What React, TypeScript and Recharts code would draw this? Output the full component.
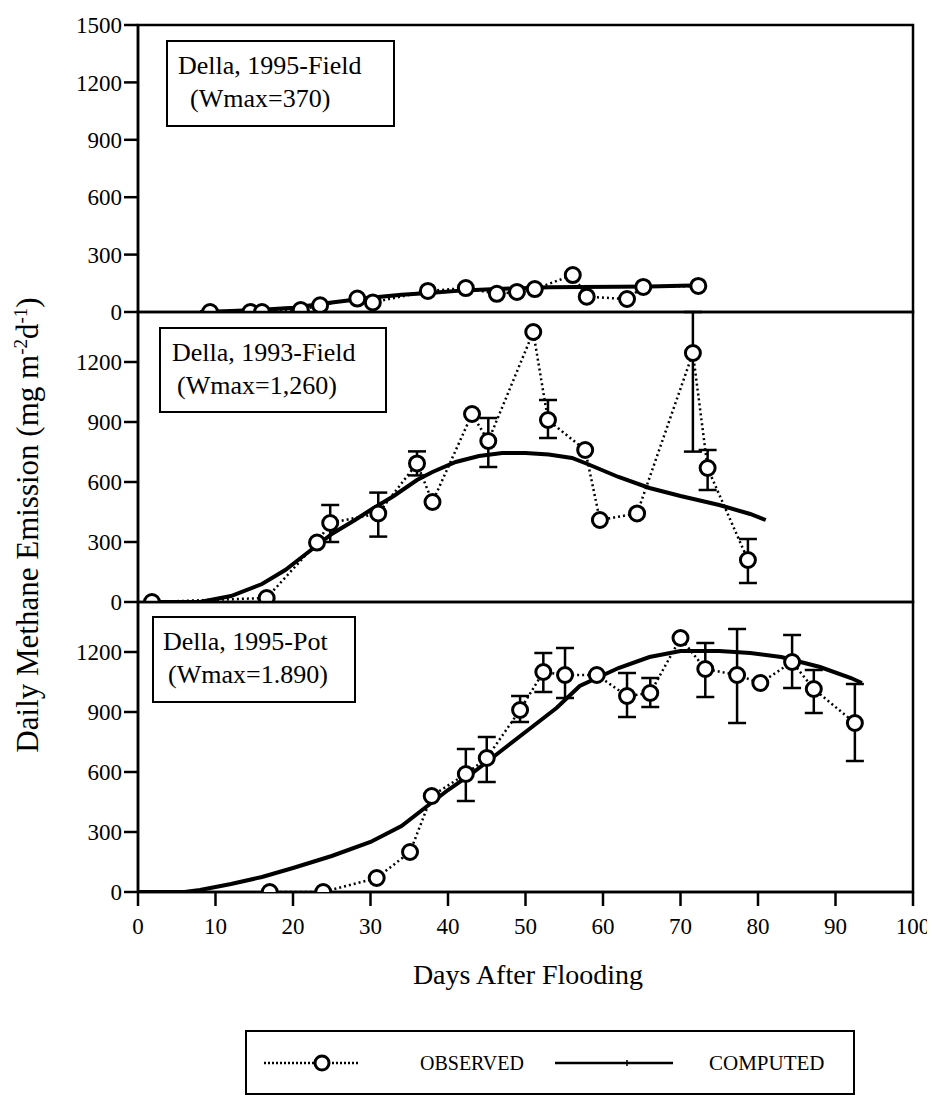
import React from 'react';
import { ComposedChart, Line, XAxis, YAxis, ErrorBar, ReferenceArea } from 'recharts';

const FONT = '"Liberation Serif", "Times New Roman", serif';

const xTicks = [0, 10, 20, 30, 40, 50, 60, 70, 80, 90, 100];
const yTicksTop = [0, 300, 600, 900, 1200, 1500];
const yTicksLow = [0, 300, 600, 900, 1200];

// Della, 1995-Field
const f95ObsDays = [9.3, 14.5, 16, 21, 23.5, 28.3, 30.3, 37.4, 42.3, 46.3, 48.9, 51.2, 56.1, 57.9, 63.1, 65.2, 72.3];
const f95ObsVals = [0, 0, 0, 10, 35, 70, 50, 110, 125, 95, 105, 120, 193, 80, 68, 131, 136];
const f95CompDays = [8, 12, 16, 20, 25, 30, 34, 38, 42, 47, 53, 57, 62, 66, 70, 73];
const f95CompVals = [0, 5, 12, 22, 50, 75, 90, 100, 113, 121, 130, 131, 132, 133, 137, 140];

// Della, 1993-Field
const f93ObsDays = [1.8, 16.6, 23.1, 24.8, 31, 36, 38, 43.1, 45.2, 51, 52.9, 57.7, 59.6, 64.4, 71.6, 73.5, 78.7];
const f93ObsVals = [0, 20, 297, 395, 443, 693, 500, 940, 805, 1350, 910, 760, 410, 443, 1245, 670, 210];
const f93ObsErr = [null, null, null, [95, 90], [116, 104], [60, 60], null, null, [130, 115], null, [90, 100], null, null, null, [493, 205], [110, 90], [115, 105]];
const f93CompDays = [2, 8, 12, 16, 19, 21, 23, 25, 28, 30, 33, 36, 38, 41, 44, 47, 50, 53, 56, 58, 62, 66, 70, 75, 79, 81];
const f93CompVals = [0, 0, 30, 90, 160, 220, 280, 340, 410, 460, 530, 610, 650, 700, 730, 745, 745, 738, 720, 690, 625, 570, 530, 485, 440, 410];

// Della, 1995-Pot
const p95ObsDays = [17, 23.9, 30.8, 35.1, 37.9, 42.3, 45, 49.3, 52.3, 55.1, 59.2, 63.1, 66.1, 70, 73.2, 77.3, 80.3, 84.4, 87.2, 92.5];
const p95ObsVals = [0, 0, 70, 200, 480, 590, 670, 910, 1100, 1085, 1085, 980, 995, 1270, 1115, 1085, 1045, 1150, 1015, 845];
const p95ObsErr = [null, null, null, null, null, [135, 125], [120, 105], [60, 70], [100, 95], [115, 135], null, [105, 115], [70, 75], null, [140, 130], [240, 230], null, [130, 135], [120, 95], [190, 195]];
const p95CompDays = [0, 6, 8, 12, 16, 20, 25, 30, 34, 38, 40, 43, 47, 51, 54, 57, 62, 66, 70, 75, 79, 83, 88, 92, 93.4];
const p95CompVals = [0, 0, 10, 40, 75, 120, 180, 250, 330, 450, 510, 590, 710, 830, 920, 1030, 1120, 1175, 1205, 1205, 1195, 1175, 1125, 1070, 1045];

type Row = { day: number; v: number; err?: number[] | null };

const rows = (days: number[], vals: number[], errs?: (number[] | null)[]): Row[] =>
  days.map((d, i) => ({ day: d, v: vals[i], err: errs ? errs[i] : null }));

const axisStroke = { stroke: '#000', strokeWidth: 2.5 };
const tickStyle = { fill: '#000', fontSize: 23, fontFamily: FONT };

interface PanelProps {
  top: number;
  height: number;
  marginTop: number;
  marginBottom: number;
  yMax: number;
  yTicks: number[];
  obs: Row[];
  comp: Row[];
  bottom?: boolean;
}

function Panel({ top, height, marginTop, marginBottom, yMax, yTicks, obs, comp, bottom }: PanelProps) {
  return (
    <div style={{ position: 'absolute', left: 0, top }}>
      <ComposedChart width={927} height={height} margin={{ top: marginTop, right: 22, bottom: marginBottom, left: 70 }}>
        <XAxis
          type="number"
          dataKey="day"
          domain={[0, 100]}
          ticks={xTicks}
          interval={0}
          hide={!bottom}
          height={50}
          tickSize={14}
          tickMargin={12}
          axisLine={axisStroke}
          tickLine={axisStroke}
          tick={tickStyle}
        />
        <YAxis
          type="number"
          domain={[0, yMax]}
          ticks={yTicks}
          interval={0}
          allowDataOverflow
          width={60}
          tickSize={14}
          axisLine={axisStroke}
          tickLine={axisStroke}
          tick={tickStyle}
        />
        <ReferenceArea x1={0} x2={100} y1={0} y2={yMax} fill="none" stroke="#000" strokeWidth={2.5} />
        <Line
          data={comp}
          dataKey="v"
          type="linear"
          stroke="#000"
          strokeWidth={4}
          dot={false}
          activeDot={false}
          isAnimationActive={false}
        />
        <Line
          data={obs}
          dataKey="v"
          type="linear"
          stroke="#000"
          strokeWidth={2.5}
          strokeDasharray="2 3"
          dot={{ r: 7.5, fill: '#fff', stroke: '#000', strokeWidth: 3, strokeDasharray: 'none' }}
          activeDot={false}
          isAnimationActive={false}
        >
          <ErrorBar dataKey="err" direction="y" width={9} stroke="#000" strokeWidth={2.5} />
        </Line>
      </ComposedChart>
    </div>
  );
}

const boxStyle = (left: number, top: number, width: number, height: number): React.CSSProperties => ({
  position: 'absolute',
  left,
  top,
  width,
  height,
  boxSizing: 'border-box',
  border: '2.5px solid #000',
  background: '#fff',
  fontFamily: FONT,
  fontSize: 26,
  lineHeight: '33px',
  paddingTop: 7,
  whiteSpace: 'nowrap',
});

export default function App() {
  return (
    <div style={{ position: 'relative', width: 927, height: 1090, fontFamily: FONT, color: '#000' }}>
      <Panel top={0} height={330} marginTop={17} marginBottom={26} yMax={1500} yTicks={yTicksTop}
        obs={rows(f95ObsDays, f95ObsVals)} comp={rows(f95CompDays, f95CompVals)} />
      <Panel top={280} height={340} marginTop={24} marginBottom={26} yMax={1450} yTicks={yTicksLow}
        obs={rows(f93ObsDays, f93ObsVals, f93ObsErr)} comp={rows(f93CompDays, f93CompVals)} />
      <Panel top={570} height={374} marginTop={24} marginBottom={10} yMax={1450} yTicks={yTicksLow}
        obs={rows(p95ObsDays, p95ObsVals, p95ObsErr)} comp={rows(p95CompDays, p95CompVals)} bottom />

      <div style={boxStyle(158, 32, 229, 87)}>
        <div style={{ marginLeft: 10 }}>Della, 1995-Field</div>
        <div style={{ marginLeft: 22 }}>(Wmax=370)</div>
      </div>
      <div style={boxStyle(151, 319, 228, 86)}>
        <div style={{ marginLeft: 11 }}>Della, 1993-Field</div>
        <div style={{ marginLeft: 16 }}>(Wmax=1,260)</div>
      </div>
      <div style={boxStyle(144, 608, 204, 87)}>
        <div style={{ marginLeft: 9 }}>Della, 1995-Pot</div>
        <div style={{ marginLeft: 14 }}>(Wmax=1.890)</div>
      </div>

      <div style={{ position: 'absolute', left: 20, top: 517, transform: 'translate(-50%, -50%) rotate(-90deg)', fontSize: 31, whiteSpace: 'nowrap' }}>
        Daily Methane Emission (mg m<sup style={{ fontSize: 19 }}>-2</sup>d<sup style={{ fontSize: 19 }}>-1</sup>)
      </div>

      <div style={{ position: 'absolute', left: 520, top: 967, transform: 'translate(-50%, -50%)', fontSize: 28, whiteSpace: 'nowrap' }}>
        Days After Flooding
      </div>

      <div style={{ position: 'absolute', left: 237, top: 1022, width: 610, height: 65, boxSizing: 'border-box', border: '2.5px solid #000' }}>
        <svg width={610} height={60} style={{ position: 'absolute', left: 0, top: 0 }}>
          <line x1={17} y1={31} x2={113} y2={31} stroke="#000" strokeWidth={2.5} strokeDasharray="2 2" />
          <circle cx={75} cy={31} r={7} fill="#fff" stroke="#000" strokeWidth={3} />
          <line x1={308} y1={31} x2={426} y2={31} stroke="#000" strokeWidth={2.5} />
          <line x1={380} y1={28} x2={380} y2={34} stroke="#000" strokeWidth={1.5} />
        </svg>
        <div style={{ position: 'absolute', left: 173, top: 31, transform: 'translateY(-50%)', fontSize: 20 }}>OBSERVED</div>
        <div style={{ position: 'absolute', left: 462, top: 31, transform: 'translateY(-50%)', fontSize: 21 }}>COMPUTED</div>
      </div>
    </div>
  );
}
